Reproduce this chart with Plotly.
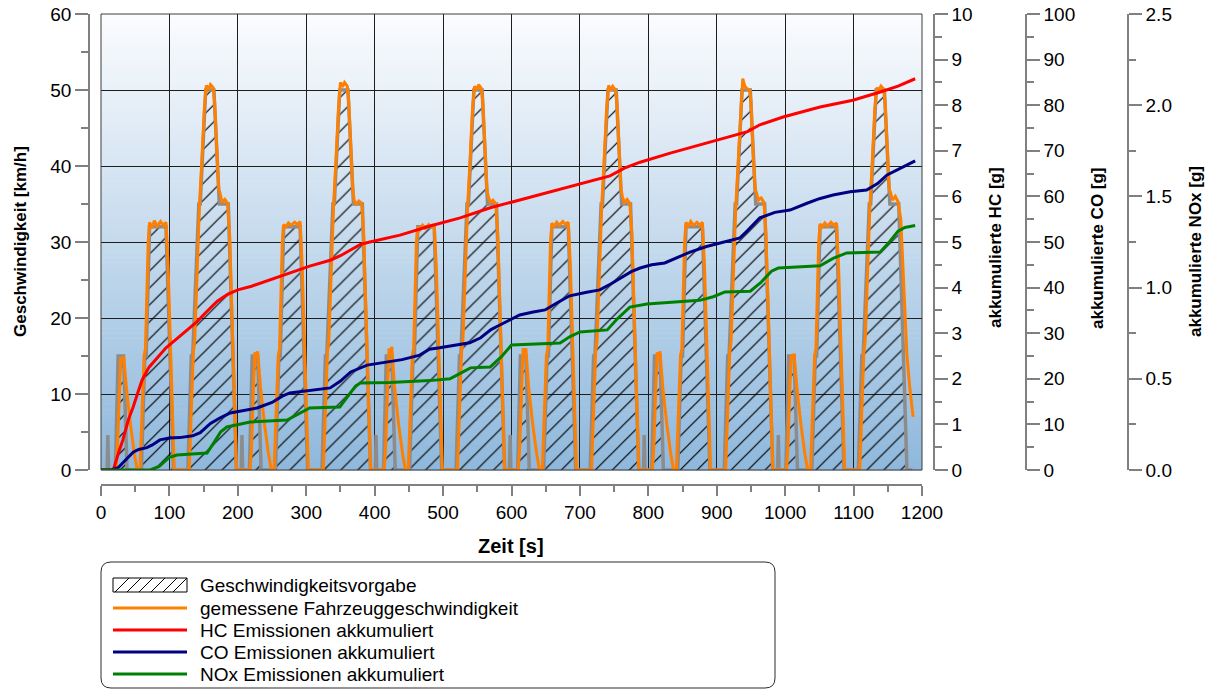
import plotly.graph_objects as go

W, H = 1212, 690
FONT = "Liberation Sans, Arial, sans-serif"

# Speed demand (repeated urban cycle): (time s, km/h)
TARGET = [
    (0, 0), (9, 0), (10, 4.6), (11, 0), (21, 0), (25, 15), (33, 15), (38, 0), (59, 0), (64, 15), (66, 15),
    (71, 32), (95, 32), (106, 0), (127, 0), (132, 15), (134, 15), (143, 35), (145, 35), (153, 50), (165, 50),
    (173, 35), (186, 35), (198, 0),
    (205, 0), (206, 4.6), (207, 0), (217, 0), (221, 15), (229, 15), (234, 0), (255, 0), (260, 15), (262, 15),
    (267, 32), (291, 32), (302, 0), (323, 0), (328, 15), (330, 15), (339, 35), (341, 35), (349, 50), (361, 50),
    (369, 35), (382, 35), (394, 0),
    (401, 0), (402, 4.6), (403, 0), (413, 0), (417, 15), (425, 15), (430, 0), (451, 0), (456, 15), (458, 15),
    (463, 32), (487, 32), (498, 0), (519, 0), (524, 15), (526, 15), (535, 35), (537, 35), (545, 50), (557, 50),
    (565, 35), (578, 35), (590, 0),
    (597, 0), (598, 4.6), (599, 0), (609, 0), (613, 15), (621, 15), (626, 0), (647, 0), (652, 15), (654, 15),
    (659, 32), (683, 32), (694, 0), (715, 0), (720, 15), (722, 15), (731, 35), (733, 35), (741, 50), (753, 50),
    (761, 35), (774, 35), (786, 0),
    (793, 0), (794, 4.6), (795, 0), (805, 0), (809, 15), (817, 15), (822, 0), (843, 0), (848, 15), (850, 15),
    (855, 32), (879, 32), (890, 0), (911, 0), (916, 15), (918, 15), (927, 35), (929, 35), (937, 50), (949, 50),
    (957, 35), (970, 35), (982, 0),
    (989, 0), (990, 4.6), (991, 0), (1001, 0), (1005, 15), (1013, 15), (1018, 0), (1039, 0), (1044, 15),
    (1046, 15), (1051, 32), (1075, 32), (1086, 0), (1107, 0), (1112, 15), (1114, 15), (1123, 35), (1125, 35),
    (1133, 50), (1145, 50), (1153, 35), (1166, 35), (1178, 0), (1186, 0),
]

# Measured vehicle speed: (time s, km/h)
MEASURED = [
    (0, 0), (22, 0), (24, 3), (27, 11), (29, 14.8), (31, 14.3), (33, 15), (37, 11), (43, 6), (49, 2), (53, 0),
    (57, 0), (60, 8), (63, 15), (65, 16), (69, 30), (71, 32.6), (74, 31.8), (78, 32.8), (82, 32.1), (87, 32.7),
    (91, 32.2), (95, 32.6), (98, 27), (102, 15), (105, 5), (107, 0), (129, 0), (132, 9), (135, 15.5), (137, 17),
    (141, 29), (144, 35), (147, 40), (151, 47.5), (154, 50.6), (157, 50), (160, 50.7), (164, 50.3), (166, 48.5),
    (169, 42), (172, 37), (174, 36.4), (177, 35.2), (181, 35.6), (185, 35.1), (188, 31), (192, 18), (196, 6),
    (198, 0),
    (218, 0), (220, 3), (223, 11), (225, 15.5), (227, 14.8), (229, 15.6), (233, 11), (239, 6), (245, 2), (249, 0),
    (253, 0), (256, 8), (259, 15), (261, 16), (265, 30), (267, 32.3), (270, 32), (274, 32.5), (278, 32.2),
    (283, 32.6), (287, 32.3), (291, 32.7), (294, 27), (298, 15), (301, 5), (303, 0), (325, 0), (328, 9),
    (331, 15.5), (333, 17), (337, 29), (340, 35), (343, 40), (347, 47.5), (350, 51), (353, 50.4), (356, 51),
    (360, 50.5), (362, 48.5), (365, 42), (368, 37), (370, 35.5), (373, 35), (377, 35.4), (381, 35.1), (384, 31),
    (388, 18), (392, 6), (394, 0),
    (414, 0), (416, 3), (419, 11), (421, 16), (423, 15.4), (425, 16.2), (429, 11), (435, 6), (441, 2), (445, 0),
    (449, 0), (452, 8), (455, 15), (457, 16), (461, 30), (463, 32), (466, 31.6), (470, 32.2), (474, 31.8),
    (479, 32.3), (483, 32), (487, 32.3), (490, 27), (494, 15), (497, 5), (499, 0), (521, 0), (524, 9),
    (527, 15.5), (529, 17), (533, 29), (536, 35), (539, 40), (543, 47.5), (546, 50.5), (549, 50), (552, 50.7),
    (556, 50.2), (558, 48.5), (561, 42), (564, 37), (566, 36), (569, 35.2), (573, 35.5), (577, 35), (580, 31),
    (584, 18), (588, 6), (590, 0),
    (610, 0), (612, 3), (615, 11), (617, 16), (619, 15.2), (621, 16), (625, 11), (631, 6), (637, 2), (641, 0),
    (645, 0), (648, 8), (651, 15), (653, 16), (657, 30), (659, 32.5), (662, 32), (666, 32.6), (670, 32.2),
    (675, 32.7), (679, 32.3), (683, 32.6), (686, 27), (690, 15), (693, 5), (695, 0), (717, 0), (720, 9),
    (723, 15.5), (725, 17), (729, 29), (732, 35), (735, 40), (739, 47.5), (742, 50.6), (745, 50), (748, 50.5),
    (752, 50), (754, 48.5), (757, 42), (760, 37), (762, 36), (765, 35.2), (769, 35.6), (773, 35.1), (776, 31),
    (780, 18), (784, 6), (786, 0),
    (806, 0), (808, 3), (811, 11), (813, 15.5), (815, 14.8), (817, 15.6), (821, 11), (827, 6), (833, 2), (837, 0),
    (841, 0), (844, 8), (847, 15), (849, 16), (853, 30), (855, 32.6), (858, 32), (862, 32.7), (866, 32.2),
    (871, 32.6), (875, 32.2), (879, 32.6), (882, 27), (886, 15), (889, 5), (891, 0), (913, 0), (916, 9),
    (919, 15.5), (921, 17), (925, 29), (928, 35), (931, 40), (935, 47.5), (938, 51.5), (941, 50.5), (944, 50.2),
    (948, 50), (950, 48.5), (953, 42), (956, 37), (958, 36.5), (961, 35.5), (965, 35.8), (969, 35.2), (972, 31),
    (976, 18), (980, 6), (982, 0),
    (1002, 0), (1004, 3), (1007, 11), (1009, 15.2), (1011, 14.6), (1013, 15.3), (1017, 11), (1023, 6), (1029, 2),
    (1033, 0), (1037, 0), (1040, 8), (1043, 15), (1045, 16), (1049, 30), (1051, 32.4), (1054, 32), (1058, 32.5),
    (1062, 32.1), (1067, 32.6), (1071, 32.2), (1075, 32.5), (1078, 27), (1082, 15), (1085, 5), (1087, 0),
    (1109, 0), (1112, 9), (1115, 15.5), (1117, 17), (1121, 29), (1124, 35), (1127, 40), (1131, 47.5),
    (1134, 50.3), (1137, 50), (1140, 50.5), (1144, 50.1), (1146, 48.5), (1149, 42), (1152, 37), (1154, 36.5),
    (1157, 35.5), (1161, 36), (1165, 35.3), (1169, 33), (1174, 24), (1178, 15), (1182, 11), (1185, 8), (1187, 7),
]

# Accumulated emissions: (time s, grams)
HC = [
    (0, 0), (18, 0), (25, 0.35), (32, 0.66), (40, 1.1), (47, 1.38), (55, 1.75), (60, 1.97), (70, 2.25),
    (82, 2.45), (95, 2.68), (111, 2.88), (125, 3.05), (140, 3.25), (155, 3.48), (170, 3.7), (185, 3.85),
    (200, 3.95), (220, 4.03), (247, 4.17), (276, 4.32), (305, 4.47), (335, 4.6), (350, 4.7), (364, 4.82),
    (380, 4.95), (393, 5.0), (437, 5.15), (481, 5.35), (525, 5.53), (569, 5.75), (612, 5.92), (656, 6.1),
    (700, 6.27), (744, 6.45), (765, 6.62), (788, 6.75), (832, 6.95), (875, 7.13), (919, 7.3), (945, 7.42),
    (963, 7.57), (997, 7.74), (1051, 7.96), (1099, 8.11), (1139, 8.29), (1165, 8.42), (1190, 8.58),
]
CO = [
    (0, 0), (15, 0), (25, 0.5), (35, 2), (47, 3.9), (55, 4.5), (67, 4.9), (75, 5.5), (86, 6.6), (100, 7.0),
    (115, 7.1), (134, 7.5), (145, 8.2), (160, 10.2), (175, 11.5), (189, 12.5), (210, 13.1), (228, 13.6),
    (250, 14.8), (265, 16.2), (276, 16.9), (300, 17.3), (320, 17.6), (335, 18.0), (350, 19.5), (365, 21.5),
    (389, 23.0), (422, 23.7), (440, 24.2), (466, 25.2), (480, 26.5), (495, 26.8), (520, 27.5), (539, 27.9),
    (555, 29.0), (570, 30.8), (583, 31.8), (600, 33.2), (612, 34.0), (630, 34.6), (649, 35.1), (665, 36.5),
    (685, 38.2), (710, 39.0), (729, 39.5), (745, 40.8), (759, 42.1), (775, 43.5), (788, 44.3), (805, 45.0),
    (824, 45.4), (840, 46.5), (861, 47.8), (885, 49.0), (905, 49.8), (934, 50.9), (945, 52.5), (963, 55.3),
    (985, 56.5), (1007, 57.0), (1032, 58.5), (1050, 59.5), (1070, 60.3), (1095, 61.0), (1119, 61.4),
    (1135, 62.8), (1149, 64.7), (1168, 66.2), (1190, 67.8),
]
NOX = [
    (0, 0), (72, 0), (85, 0.02), (100, 0.07), (111, 0.082), (155, 0.093), (165, 0.15), (175, 0.21),
    (184, 0.236), (218, 0.263), (272, 0.274), (290, 0.31), (305, 0.34), (349, 0.345), (360, 0.4), (372, 0.46),
    (379, 0.477), (422, 0.48), (481, 0.49), (510, 0.50), (525, 0.53), (540, 0.56), (569, 0.565), (585, 0.62),
    (600, 0.685), (642, 0.69), (671, 0.696), (685, 0.73), (700, 0.757), (740, 0.768), (755, 0.83), (773, 0.893),
    (798, 0.91), (875, 0.93), (895, 0.95), (912, 0.976), (949, 0.98), (965, 1.03), (980, 1.09), (990, 1.107),
    (1051, 1.12), (1070, 1.16), (1090, 1.19), (1139, 1.195), (1150, 1.24), (1165, 1.31), (1175, 1.33),
    (1190, 1.34),
]

LEGEND_LABELS = [
    "Geschwindigkeitsvorgabe",
    "gemessene Fahrzeuggeschwindigkeit",
    "HC Emissionen akkumuliert",
    "CO Emissionen akkumuliert",
    "NOx Emissionen akkumuliert",
]
C_TARGET, C_MEAS, C_HC, C_CO, C_NOX = "#8c8c8c", "#ff8000", "#ff0000", "#000080", "#008000"


def px(x):
    return x / W


def py(y):
    return 1 - y / H


def unzip(pairs):
    return [p[0] for p in pairs], [p[1] for p in pairs]


fig = go.Figure()

t, v = unzip(TARGET)
fig.add_trace(go.Scatter(
    x=t, y=v, mode="lines", name=LEGEND_LABELS[0],
    line=dict(color=C_TARGET, width=3.5),
    fill="tozeroy", fillcolor="rgba(0,0,0,0)",
    fillpattern=dict(shape="/", size=12, solidity=0.1, fgcolor="#000000",
                     bgcolor="rgba(0,0,0,0)", fgopacity=1),
))
t, v = unzip(MEASURED)
fig.add_trace(go.Scatter(x=t, y=v, mode="lines", name=LEGEND_LABELS[1],
                         line=dict(color=C_MEAS, width=3)))
t, v = unzip(HC)
fig.add_trace(go.Scatter(x=t, y=v, mode="lines", name=LEGEND_LABELS[2], yaxis="y2",
                         line=dict(color=C_HC, width=3)))
t, v = unzip(CO)
fig.add_trace(go.Scatter(x=t, y=v, mode="lines", name=LEGEND_LABELS[3], yaxis="y3",
                         line=dict(color=C_CO, width=3)))
t, v = unzip(NOX)
fig.add_trace(go.Scatter(x=t, y=v, mode="lines", name=LEGEND_LABELS[4], yaxis="y4",
                         line=dict(color=C_NOX, width=3)))

AX_COL = "#808080"
GRID_COL = "#1e1e1e"
tickfont = dict(family=FONT, size=19, color="#000000")


def axis(**kw):
    base = dict(showline=True, linecolor=AX_COL, linewidth=1.5, ticks="outside",
                tickcolor=AX_COL, tickwidth=1.5, ticklen=13, tickfont=tickfont,
                zeroline=False, showgrid=False, automargin=False, fixedrange=True)
    base.update(kw)
    return base


def minor(d):
    return dict(dtick=d, ticks="outside", ticklen=7, tickcolor=AX_COL, tickwidth=1.5, showgrid=False)


Y_DOM = [py(470), py(14)]

layout = dict(
    width=W, height=H, template="none",
    margin=dict(l=0, r=0, t=0, b=0),
    paper_bgcolor="#ffffff", plot_bgcolor="rgba(0,0,0,0)",
    showlegend=False,
    xaxis=axis(domain=[px(101), px(922)], anchor="free", position=py(485), range=[0, 1200],
               tick0=0, dtick=100, ticklen=10, minor=dict(dtick=50, ticks="outside", ticklen=6,
                                                          tickcolor=AX_COL, tickwidth=1.5, showgrid=False),
               showgrid=True, gridcolor=GRID_COL, gridwidth=1),
    yaxis=axis(domain=Y_DOM, anchor="free", position=px(89), side="left", range=[0, 60],
               tick0=0, dtick=10, minor=minor(5), showgrid=True, gridcolor=GRID_COL, gridwidth=1),
    yaxis2=axis(overlaying="y", anchor="free", position=px(934), side="right", range=[0, 10],
                tick0=0, dtick=1, minor=minor(0.5)),
    yaxis3=axis(overlaying="y", anchor="free", position=px(1026), side="right", range=[0, 100],
                tick0=0, dtick=10, minor=minor(5)),
    yaxis4=axis(overlaying="y", anchor="free", position=px(1128), side="right", range=[0, 2.5],
                tick0=0, dtick=0.5, tickformat=".1f", minor=minor(0.25)),
)
fig.update_layout(**layout)

shapes = []
# vertical background gradient of the plot area
top_c, bot_c = (251, 252, 254), (143, 184, 220)
n = 90
y_top, y_bot = 14, 470
for i in range(n):
    f = (i + 0.5) / n
    col = tuple(round(a + (b - a) * f) for a, b in zip(top_c, bot_c))
    ya = y_top + (y_bot - y_top) * i / n
    yb = y_top + (y_bot - y_top) * (i + 1) / n
    shapes.append(dict(type="rect", xref="paper", yref="paper", layer="below",
                       x0=px(101), x1=px(922), y0=py(yb + 0.6), y1=py(ya),
                       fillcolor="rgb(%d,%d,%d)" % col, line=dict(width=0)))
# plot frame
shapes.append(dict(type="rect", xref="paper", yref="paper", layer="above",
                   x0=px(101), x1=px(922), y0=py(470), y1=py(14),
                   line=dict(color="#3c3c3c", width=1), fillcolor="rgba(0,0,0,0)"))

# legend box with rounded corners
bx0, bx1, by0, by1, r = 101, 775, 562, 688, 10
path = (f"M {px(bx0 + r)},{py(by0)} L {px(bx1 - r)},{py(by0)} "
        f"Q {px(bx1)},{py(by0)} {px(bx1)},{py(by0 + r)} L {px(bx1)},{py(by1 - r)} "
        f"Q {px(bx1)},{py(by1)} {px(bx1 - r)},{py(by1)} L {px(bx0 + r)},{py(by1)} "
        f"Q {px(bx0)},{py(by1)} {px(bx0)},{py(by1 - r)} L {px(bx0)},{py(by0 + r)} "
        f"Q {px(bx0)},{py(by0)} {px(bx0 + r)},{py(by0)} Z")
shapes.append(dict(type="path", xref="paper", yref="paper", path=path,
                   line=dict(color="#2a2a2a", width=1), fillcolor="rgba(0,0,0,0)"))

row_y = [585, 608, 630, 652, 674]
sx0, sx1 = 113, 187
# hatched swatch
shapes.append(dict(type="rect", xref="paper", yref="paper", x0=px(sx0), x1=px(sx1),
                   y0=py(592), y1=py(578), line=dict(color="#000000", width=1),
                   fillcolor="rgba(0,0,0,0)"))
for hx in [115, 127, 139, 151, 163, 173]:
    shapes.append(dict(type="line", xref="paper", yref="paper",
                       x0=px(hx), y0=py(592), x1=px(hx + 14), y1=py(578),
                       line=dict(color="#000000", width=1)))
for yy, col in zip(row_y[1:], [C_MEAS, C_HC, C_CO, C_NOX]):
    shapes.append(dict(type="line", xref="paper", yref="paper",
                       x0=px(sx0), x1=px(sx1), y0=py(yy), y1=py(yy),
                       line=dict(color=col, width=3)))

annotations = []
for yy, label in zip(row_y, LEGEND_LABELS):
    annotations.append(dict(xref="paper", yref="paper", x=px(198), y=py(yy), text=label,
                            showarrow=False, xanchor="left", yanchor="middle",
                            font=dict(family=FONT, size=19, color="#000000")))

title_font = dict(family=FONT, size=17, color="#000000")
for x, y, txt in [(20, 242, "Geschwindigkeit [km/h]"),
                  (995, 248, "akkumulierte HC [g]"),
                  (1097, 248, "akkumulierte CO [g]"),
                  (1195, 252, "akkumulierte NOx [g]")]:
    annotations.append(dict(xref="paper", yref="paper", x=px(x), y=py(y), text="<b>%s</b>" % txt,
                            showarrow=False, textangle=-90, xanchor="center", yanchor="middle",
                            font=title_font))
annotations.append(dict(xref="paper", yref="paper", x=px(511), y=py(546), text="<b>Zeit [s]</b>",
                        showarrow=False, xanchor="center", yanchor="middle",
                        font=dict(family=FONT, size=20, color="#000000")))

fig.update_layout(shapes=shapes, annotations=annotations)
fig.write_html("out.html")
